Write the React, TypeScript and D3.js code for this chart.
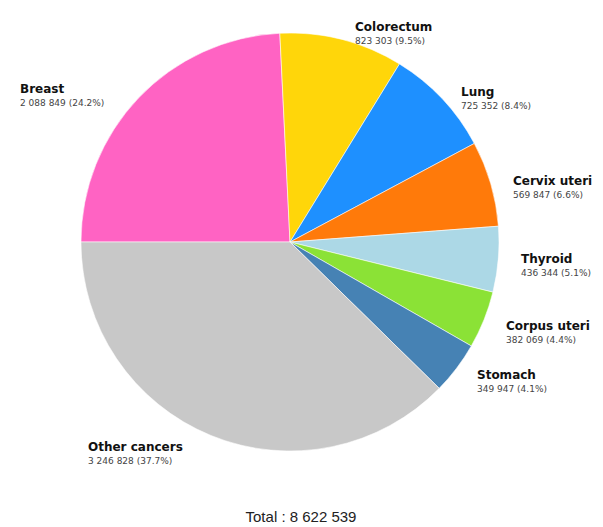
import React from "react";
import * as d3 from "d3";

const categories = ["Breast", "Colorectum", "Lung", "Cervix uteri", "Thyroid", "Corpus uteri", "Stomach", "Other cancers"];
const values = [2088849, 823303, 725352, 569847, 436344, 382069, 349947, 3246828];
const percents = ["24.2%", "9.5%", "8.4%", "6.6%", "5.1%", "4.4%", "4.1%", "37.7%"];
const colors = ["#ff63c3", "#ffd60a", "#1e90ff", "#ff7a0a", "#acd8e6", "#8be236", "#4682b4", "#c8c8c8"];
const totalLabel = "Total : 8 622 539";

// label layout (pixel position of each label block)
const labelPos: Record<string, [number, number]> = {
  "Breast": [20, 93],
  "Colorectum": [355, 31],
  "Lung": [461, 96],
  "Cervix uteri": [513, 185],
  "Thyroid": [521, 263],
  "Corpus uteri": [506, 330],
  "Stomach": [477, 379],
  "Other cancers": [88, 451],
};

const W = 603, H = 527;
const cx = 290, cy = 242, R = 209;

const fmt = (v: number) => d3.format(",")(v).replace(/,/g, " ");

export default function App() {
  const data = categories.map((c, i) => ({ name: c, value: values[i], pct: percents[i], color: colors[i] }));
  const pie = d3.pie<any>().value((d) => d.value).sort(null).startAngle(-Math.PI / 2).endAngle(Math.PI * 1.5);
  const arcs = pie(data);
  const arc = d3.arc<any>().innerRadius(0).outerRadius(R);
  return (
    <svg width={W} height={H} style={{ position: "absolute", left: 0, top: 0, fontFamily: "'DejaVu Sans', sans-serif" }}>
      <rect width={W} height={H} fill="#fff" />
      <g transform={`translate(${cx},${cy})`}>
        {arcs.map((a, i) => (
          <path key={i} d={arc(a) as string} fill={a.data.color} stroke="#fff" strokeWidth={0.8} strokeOpacity={0.7} />
        ))}
      </g>
      {arcs.map((a, i) => {
        const [x, y] = labelPos[a.data.name];
        return (
          <g key={"l" + i}>
            <text x={x} y={y} fontSize={12} fontWeight="bold" fill="#111">{a.data.name}</text>
            <text x={x} y={y + 13} fontSize={9} fill="#444">{`${fmt(a.data.value)} (${a.data.pct})`}</text>
          </g>
        );
      })}
      <text x={301} y={522} textAnchor="middle" fontSize={15} fill="#222" fontFamily="'Liberation Sans', Arial, sans-serif">{totalLabel}</text>
    </svg>
  );
}
